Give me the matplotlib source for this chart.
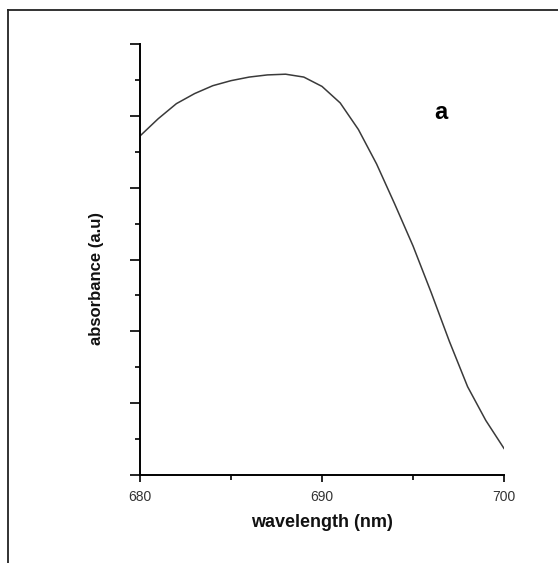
import matplotlib.pyplot as plt
from matplotlib.lines import Line2D
from matplotlib.ticker import MultipleLocator, NullFormatter

plt.rcParams["font.family"] = ["Liberation Sans", "DejaVu Sans"]

# absorbance spectrum (1 nm steps)
wavelength = [680, 681, 682, 683, 684, 685, 686, 687, 688, 689, 690,
              691, 692, 693, 694, 695, 696, 697, 698, 699, 700]
absorbance = [4.72, 4.96, 5.17, 5.31, 5.42, 5.49, 5.54, 5.57, 5.58, 5.54, 5.41,
              5.18, 4.81, 4.33, 3.77, 3.19, 2.54, 1.86, 1.23, 0.76, 0.37]
x_ticks = [680, 690, 700]

fig = plt.figure(figsize=(5.58, 5.63), dpi=100)
ax = fig.add_axes([0.2509, 0.1563, 0.6523, 0.7655])

ax.plot(wavelength, absorbance, color="#3a3a3a", lw=1.1)

ax.set_xlim(680, 700)
ax.set_ylim(0, 6)
ax.set_xticks(x_ticks)
ax.xaxis.set_minor_locator(MultipleLocator(5))
ax.yaxis.set_major_locator(MultipleLocator(1))
ax.yaxis.set_minor_locator(MultipleLocator(0.5))
ax.yaxis.set_major_formatter(NullFormatter())

for side in ["top", "right"]:
    ax.spines[side].set_visible(False)
for side in ["left", "bottom"]:
    ax.spines[side].set_linewidth(1.4)

ax.tick_params(axis="both", which="major", direction="out", length=5, width=1.2,
               labelsize=10, labelcolor="#333333", pad=6)
ax.tick_params(axis="y", which="major", length=7)
ax.tick_params(axis="both", which="minor", direction="out", length=3.5, width=1.2)

ax.set_xlabel("wavelength (nm)", fontsize=13, fontweight="bold", labelpad=7,
              color="#111111")
ax.set_ylabel("absorbance (a.u)", fontsize=12, fontweight="bold",
              color="#111111")
ax.yaxis.set_label_coords(-0.099, 0.457)

ax.text(0.827, 0.842, "a", transform=ax.transAxes, fontsize=17,
        fontweight="bold", ha="center", va="center")

# partial frame around the panel
fig.add_artist(Line2D([8 / 558, 1.0], [1 - 10 / 563, 1 - 10 / 563],
                      transform=fig.transFigure, color="#222222", lw=1.3))
fig.add_artist(Line2D([8 / 558, 8 / 558], [1 - 10 / 563, 0.0],
                      transform=fig.transFigure, color="#222222", lw=1.3))

fig.savefig("out.png", dpi=100)
